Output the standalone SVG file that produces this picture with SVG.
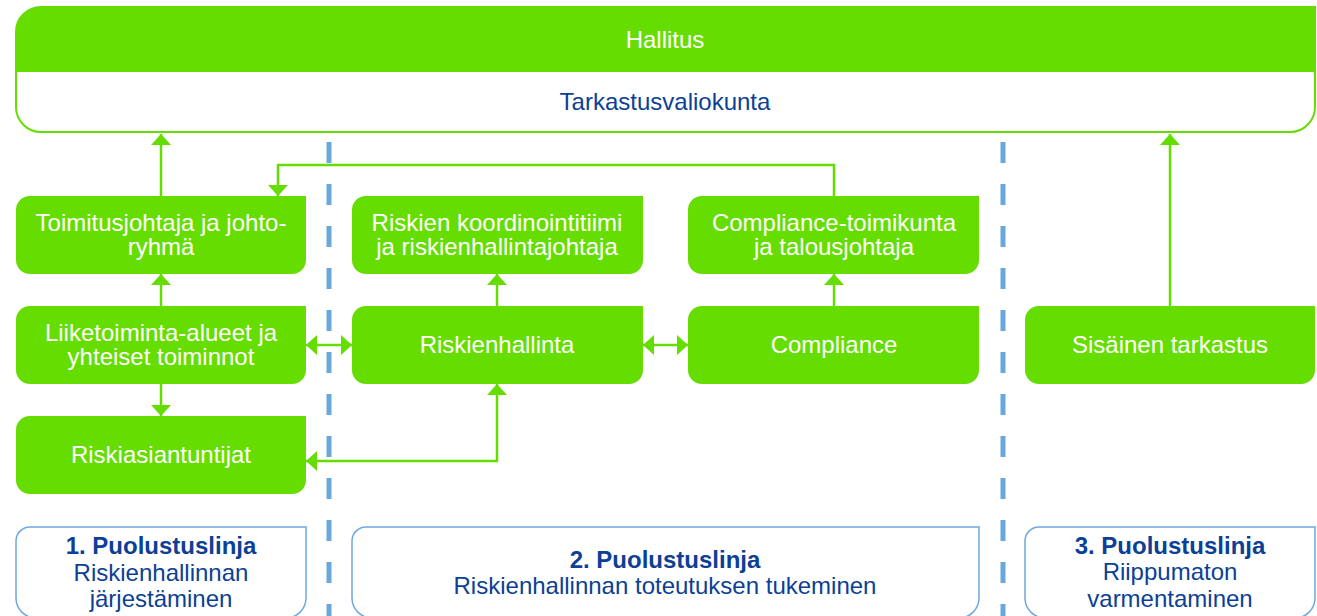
<svg xmlns="http://www.w3.org/2000/svg" width="1317" height="616" viewBox="0 0 1317 616">
<style>
.node{fill:#66dd00}
.wt{fill:#ffffff;font-family:"Liberation Sans",Arial,sans-serif;font-size:24px;text-anchor:middle}
.bt{fill:#0c3f95;font-family:"Liberation Sans",Arial,sans-serif;font-size:24px;text-anchor:middle}
.bold{font-weight:bold}
.lane{fill:#ffffff;stroke:#6fa8dc;stroke-width:1.5}
.conn{fill:none;stroke:#66dd00;stroke-width:2.5}
.dash{stroke:#6aa8dc;stroke-width:5;stroke-dasharray:21 21}
</style>
<defs>
<marker id="ah" markerUnits="userSpaceOnUse" markerWidth="12" markerHeight="20" viewBox="0 0 11 20" refX="11" refY="10" orient="auto-start-reverse">
<path d="M0,0 L11,10 L0,20 Z" fill="#66dd00"/>
</marker>
</defs>
<g id="separators">
<line class="dash" x1="329" y1="142" x2="329" y2="616"/>
<line class="dash" x1="1003" y1="142" x2="1003" y2="616"/>
</g>
<g id="board">
<path d="M41,7 H1315 V107 A25,25 0 0 1 1290,132 H41 A25,25 0 0 1 16,107 V32 A25,25 0 0 1 41,7 Z" fill="#ffffff" stroke="#66dd00" stroke-width="2"/>
<path d="M41,7 H1315 V72 H16 V32 A25,25 0 0 1 41,7 Z" fill="#66dd00"/>
<text class="wt" x="665" y="48">Hallitus</text>
<text class="bt" x="665" y="110">Tarkastusvaliokunta</text>
</g>
<g id="connectors">
<path class="conn" d="M161,196 V134" marker-end="url(#ah)"/>
<path class="conn" d="M834,196 V165 H278 V196" marker-end="url(#ah)"/>
<path class="conn" d="M161,306 V274" marker-end="url(#ah)"/>
<path class="conn" d="M161,384 V416" marker-end="url(#ah)"/>
<path class="conn" d="M306,345 H352" marker-start="url(#ah)" marker-end="url(#ah)"/>
<path class="conn" d="M497,306 V274" marker-end="url(#ah)"/>
<path class="conn" d="M643,345 H688" marker-start="url(#ah)" marker-end="url(#ah)"/>
<path class="conn" d="M834,306 V274" marker-end="url(#ah)"/>
<path class="conn" d="M497,384 V461 H306" marker-start="url(#ah)" marker-end="url(#ah)"/>
<path class="conn" d="M1170,306 V134" marker-end="url(#ah)"/>
</g>
<g id="toimitusjohtaja">
<path class="node" d="M30,196 H306 V260 A14,14 0 0 1 292,274 H30 A14,14 0 0 1 16,260 V210 A14,14 0 0 1 30,196 Z"/>
<text class="wt" x="161" y="231">Toimitusjohtaja ja johto-</text>
<text class="wt" x="161" y="255">ryhmä</text>
</g>
<g id="liiketoiminta">
<path class="node" d="M30,306 H306 V370 A14,14 0 0 1 292,384 H30 A14,14 0 0 1 16,370 V320 A14,14 0 0 1 30,306 Z"/>
<text class="wt" x="161" y="341">Liiketoiminta-alueet ja</text>
<text class="wt" x="161" y="365">yhteiset toiminnot</text>
</g>
<g id="riskiasiantuntijat">
<path class="node" d="M30,416 H306 V480 A14,14 0 0 1 292,494 H30 A14,14 0 0 1 16,480 V430 A14,14 0 0 1 30,416 Z"/>
<text class="wt" x="161" y="463">Riskiasiantuntijat</text>
</g>
<g id="koordinointitiimi">
<path class="node" d="M366,196 H643 V260 A14,14 0 0 1 629,274 H366 A14,14 0 0 1 352,260 V210 A14,14 0 0 1 366,196 Z"/>
<text class="wt" x="497" y="231">Riskien koordinointitiimi</text>
<text class="wt" x="497" y="255">ja riskienhallintajohtaja</text>
</g>
<g id="riskienhallinta">
<path class="node" d="M366,306 H643 V370 A14,14 0 0 1 629,384 H366 A14,14 0 0 1 352,370 V320 A14,14 0 0 1 366,306 Z"/>
<text class="wt" x="497" y="353">Riskienhallinta</text>
</g>
<g id="compliance-toimikunta">
<path class="node" d="M702,196 H979 V260 A14,14 0 0 1 965,274 H702 A14,14 0 0 1 688,260 V210 A14,14 0 0 1 702,196 Z"/>
<text class="wt" x="834" y="231">Compliance-toimikunta</text>
<text class="wt" x="834" y="255">ja talousjohtaja</text>
</g>
<g id="compliance">
<path class="node" d="M702,306 H979 V370 A14,14 0 0 1 965,384 H702 A14,14 0 0 1 688,370 V320 A14,14 0 0 1 702,306 Z"/>
<text class="wt" x="834" y="353">Compliance</text>
</g>
<g id="sisainen-tarkastus">
<path class="node" d="M1039,306 H1315 V370 A14,14 0 0 1 1301,384 H1039 A14,14 0 0 1 1025,370 V320 A14,14 0 0 1 1039,306 Z"/>
<text class="wt" x="1170" y="353">Sisäinen tarkastus</text>
</g>
<g id="linja1">
<path class="lane" d="M30,527 H306 V598 A20,20 0 0 1 286,618 H36 A20,20 0 0 1 16,598 V541 A14,14 0 0 1 30,527 Z"/>
<text class="bt bold" x="161" y="554">1. Puolustuslinja</text>
<text class="bt" x="161" y="581">Riskienhallinnan</text>
<text class="bt" x="161" y="607">järjestäminen</text>
</g>
<g id="linja2">
<path class="lane" d="M366,527 H979 V598 A20,20 0 0 1 959,618 H372 A20,20 0 0 1 352,598 V541 A14,14 0 0 1 366,527 Z"/>
<text class="bt bold" x="665" y="568">2. Puolustuslinja</text>
<text class="bt" x="665" y="594">Riskienhallinnan toteutuksen tukeminen</text>
</g>
<g id="linja3">
<path class="lane" d="M1039,527 H1315 V598 A20,20 0 0 1 1295,618 H1045 A20,20 0 0 1 1025,598 V541 A14,14 0 0 1 1039,527 Z"/>
<text class="bt bold" x="1170" y="554">3. Puolustuslinja</text>
<text class="bt" x="1170" y="580">Riippumaton</text>
<text class="bt" x="1170" y="607">varmentaminen</text>
</g>
</svg>
